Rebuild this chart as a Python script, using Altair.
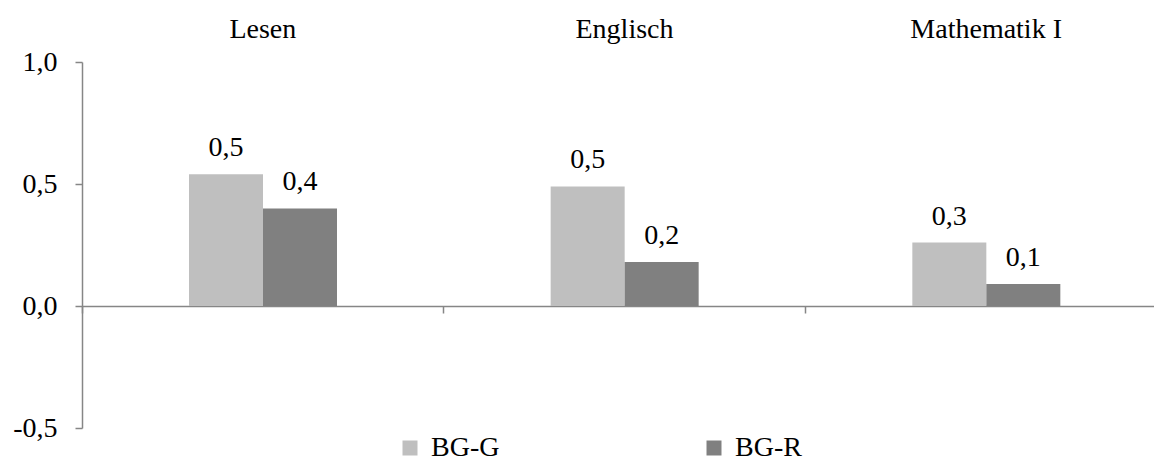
import altair as alt
import pandas as pd

subjects = ["Lesen", "Englisch", "Mathematik I"]
groups = ["BG-G", "BG-R"]
bg_g = [0.54, 0.49, 0.26]
bg_r = [0.40, 0.18, 0.09]
colors = ["#BFBFBF", "#808080"]

rows = []
for s, g, r in zip(subjects, bg_g, bg_r):
    rows.append({"Fach": s, "Gruppe": groups[0], "Wert": g})
    rows.append({"Fach": s, "Gruppe": groups[1], "Wert": r})
df = pd.DataFrame(rows)

FONT = "Liberation Serif"
FS = 28
AX = "#868686"

xscale = alt.Scale(domain=subjects, paddingInner=0, paddingOuter=0, range=[0, 1085])
yscale = alt.Scale(domain=[-0.5, 1.0], nice=False, zero=True)
xoff = alt.XOffset("Gruppe:N", sort=groups,
                   scale=alt.Scale(paddingOuter=0, paddingInner=0, range=[107, 255]))

y_axis = alt.Axis(
    values=[-0.5, 0, 0.5, 1.0],
    labelExpr="replace(replace(format(datum.value, '.1f'), '.', ','), '\u2212', '-')",
    grid=False, tickSize=7, tickColor=AX, domainColor=AX, domainWidth=1.5, tickWidth=1.5,
    labelPadding=18, labelFont=FONT, labelFontSize=FS, labelColor="black", title=None,
)

bars = alt.Chart(df).mark_bar().encode(
    x=alt.X("Fach:N", sort=subjects, scale=xscale,
            axis=alt.Axis(orient="top", domain=False, ticks=False, tickSize=0,
                          labelPadding=25, labelBaseline="alphabetic",
                          labelAngle=0, title=None,
                          labelFont=FONT, labelFontSize=FS, labelColor="black")),
    xOffset=xoff,
    y=alt.Y("Wert:Q", scale=yscale, axis=y_axis),
    color=alt.Color("Gruppe:N", sort=groups,
                    scale=alt.Scale(domain=groups, range=colors),
                    legend=alt.Legend(orient="none", legendX=314, legendY=372,
                                      direction="horizontal", columns=2, title=None,
                                      symbolType="square", symbolSize=225,
                                      symbolStrokeWidth=0, symbolOpacity=1,
                                      labelFont=FONT, labelFontSize=FS, labelColor="black",
                                      labelOffset=7, columnPadding=200, padding=0,
                                      labelLimit=300)),
)

labels = alt.Chart(df).transform_calculate(
    lab="replace(format(datum.Wert, '.1f'), '.', ',')"
).mark_text(font=FONT, fontSize=FS, color="black", baseline="alphabetic", dy=-18).encode(
    x=alt.X("Fach:N", sort=subjects, scale=xscale,
            axis=alt.Axis(orient="bottom", offset=-122, domain=True, domainColor=AX,
                          domainWidth=1.5, ticks=True, tickSize=7, tickColor=AX,
                          tickWidth=1.5, bandPosition=0, labels=False, title=None,
                          grid=False)),
    xOffset=xoff,
    y=alt.Y("Wert:Q", scale=yscale),
    text="lab:N",
)

chart = alt.layer(bars, labels).properties(
    width=1072, height=366,
    padding={"left": 82, "top": 62, "right": 0, "bottom": 30},
    autosize="none",
).configure(background="white").configure_view(stroke="transparent", strokeWidth=0)

chart.save("out.html", embed_options={"renderer": "svg", "actions": False})
